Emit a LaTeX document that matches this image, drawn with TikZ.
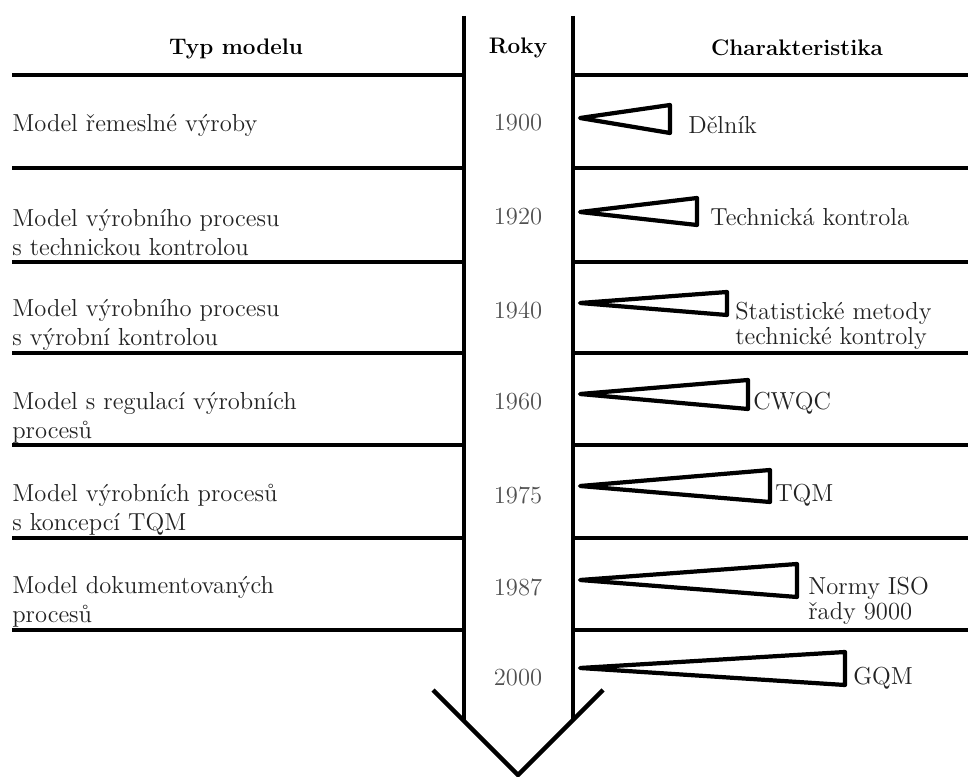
\documentclass[tikz,border=0pt]{standalone}
\usepackage{xcolor}
\usepackage{tikz}
\usetikzlibrary{positioning}
\definecolor{textgray}{RGB}{35,35,35}
\definecolor{yeargray}{RGB}{80,80,80}
\tikzset{
  % linky tabulky a sipka
  rule/.style={line width=2.2pt},
  head rule/.style={line width=2.8pt},
  shaft/.style={line width=2.6pt,line join=miter},
  wedge/.style={line width=2.4pt,line join=round},
  % texty
  head/.style={font=\fontsize{12.8}{15}\bfseries\selectfont,inner sep=0pt},
  model/.style={anchor=west,align=left,text=textgray,font=\fontsize{14}{16.5}\selectfont,inner sep=0pt},
  year/.style={text=yeargray,font=\fontsize{14}{16.5}\selectfont,inner sep=0pt},
  charlabel/.style={anchor=west,align=left,text=textgray,font=\fontsize{14}{14.5}\selectfont,inner sep=0pt}
}
\begin{document}
\begin{tikzpicture}[x=0.02cm,y=-0.02cm]
        \useasboundingbox (0,0) rectangle (968,777);
        % sipka casu
        \coordinate (shaftL) at (464,16);
        \coordinate (shaftR) at (573,16);
        \coordinate (tip) at (518,775);
        \draw[shaft] (shaftL) -- (464,721);
        \draw[shaft] (shaftR) -- (573,720);
        \draw[shaft] (433,690) -- (tip) -- (603,690);
        % hlavicka
        \node[head] (typ) at (236,49) {Typ modelu};
        \node[head] (roky) at (518,48) {Roky};
        \node[head] (charakt) at (797,48) {Charakteristika};
        \draw[head rule] (12,75) -- (464,75) (573,75) -- (968,75);
        % radky tabulky
        \draw[rule] (12,168) -- (464,168) (573,168) -- (968,168);
        \draw[rule] (12,262) -- (464,262) (573,262) -- (968,262);
        \draw[rule] (12,353) -- (464,353) (573,353) -- (968,353);
        \draw[rule] (12,445) -- (464,445) (573,445) -- (968,445);
        \draw[rule] (12,538) -- (464,538) (573,538) -- (968,538);
        \draw[rule] (12,630) -- (464,630) (573,630) -- (968,630);
        % typy modelu
        \node[model] (model1) at (12,125) {Model řemeslné výroby};
        \node[model] (model2) at (12,233) {Model výrobního procesu\\s technickou kontrolou};
        \node[model] (model3) at (12,325) {Model výrobního procesu\\s výrobní kontrolou};
        \node[model] (model4) at (12,418) {Model s regulací výrobních\\procesů};
        \node[model] (model5) at (12,510) {Model výrobních procesů\\s koncepcí TQM};
        \node[model] (model6) at (12,602) {Model dokumentovaných\\procesů};
        % roky
        \node[year] (rok1900) at (518,123) {1900};
        \node[year] (rok1920) at (518,217) {1920};
        \node[year] (rok1940) at (518,310) {1940};
        \node[year] (rok1960) at (518,402) {1960};
        \node[year] (rok1975) at (518,495) {1975};
        \node[year] (rok1987) at (518,587) {1987};
        \node[year] (rok2000) at (518,678) {2000};
        % klinky
        \draw[wedge] (580,118) -- (670,105) -- (670,133) -- cycle;
        \draw[wedge] (580,212) -- (697,198) -- (697,225) -- cycle;
        \draw[wedge] (580,303) -- (727,292) -- (727,315) -- cycle;
        \draw[wedge] (580,394) -- (748,380) -- (748,409) -- cycle;
        \draw[wedge] (580,486) -- (770,470) -- (770,502) -- cycle;
        \draw[wedge] (580,580) -- (797,564) -- (797,597) -- cycle;
        \draw[wedge] (580,668) -- (845,652) -- (845,685) -- cycle;
        % charakteristiky
        \node[charlabel] (char1) at (688,125) {Dělník};
        \node[charlabel] (char2) at (710,217) {Technická kontrola};
        \node[charlabel] (char3) at (735,326) {Statistické metody\\technické kontroly};
        \node[charlabel] (char4) at (753,403) {CWQC};
        \node[charlabel] (char5) at (775,495) {TQM};
        \node[charlabel] (char6) at (808,601) {Normy ISO\\řady 9000};
        \node[charlabel] (char7) at (853,678) {GQM};
      \end{tikzpicture}
\end{document}
